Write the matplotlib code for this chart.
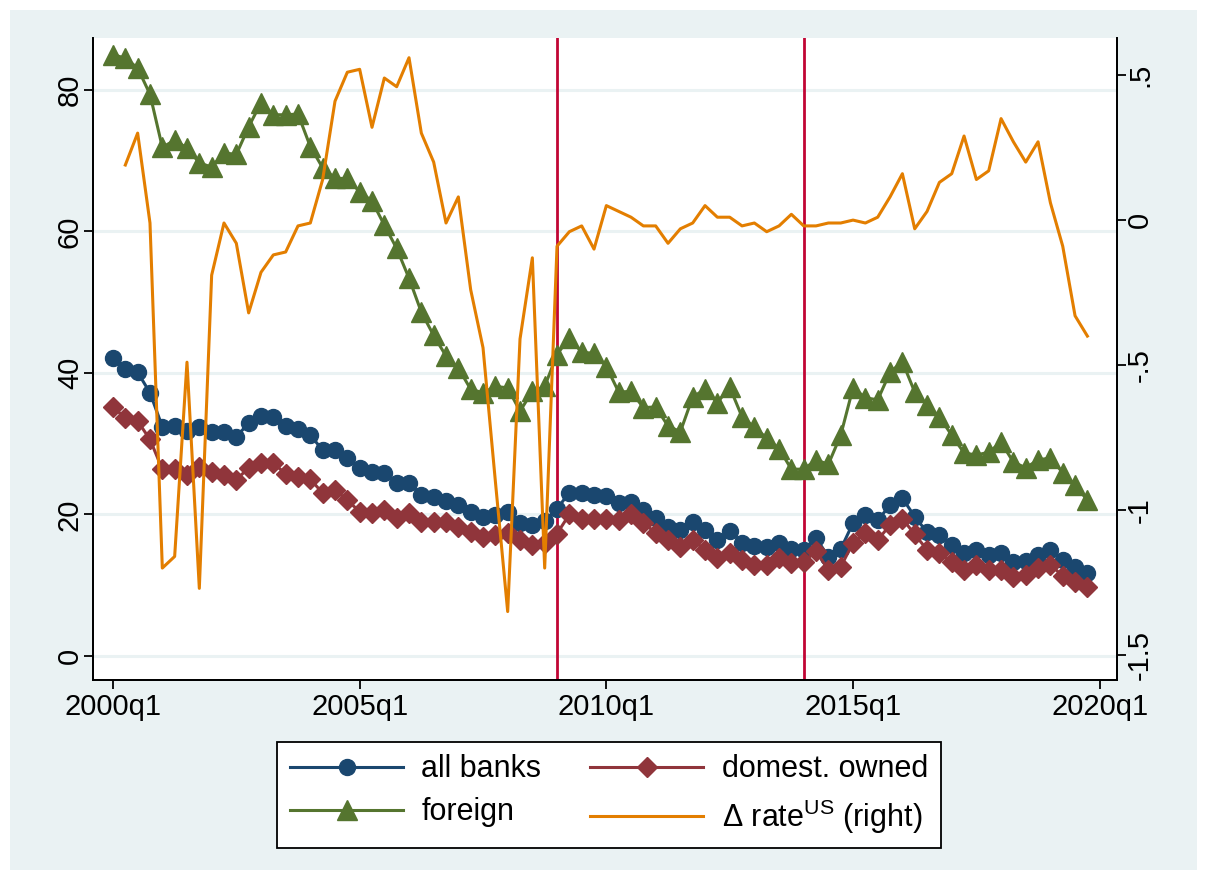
import numpy as np
import matplotlib.pyplot as plt
from matplotlib.patches import Rectangle

plt.rcParams['font.family'] = ['Liberation Sans', 'DejaVu Sans']
plt.rcParams['mathtext.fontset'] = 'custom'
plt.rcParams['mathtext.rm'] = 'Liberation Sans'

# quarterly series, 2000q1 .. 2019q4
all_banks = [42.1, 40.6, 40.1, 37.2, 32.4, 32.5, 31.8, 32.4, 31.7, 31.7,
             31.0, 32.9, 33.9, 33.8, 32.5, 32.1, 31.2, 29.1, 29.1, 28.0,
             26.6, 26.0, 25.8, 24.4, 24.4, 22.8, 22.5, 21.9, 21.3, 20.4,
             19.7, 19.9, 20.4, 18.8, 18.5, 19.1, 20.8, 23.1, 23.0, 22.8,
             22.6, 21.6, 21.8, 20.6, 19.5, 18.2, 17.8, 18.9, 17.8, 16.4,
             17.7, 16.0, 15.5, 15.4, 15.9, 15.1, 15.0, 16.7, 14.0, 15.1,
             18.8, 19.9, 19.2, 21.3, 22.3, 19.7, 17.5, 17.1, 15.7, 14.6,
             15.0, 14.3, 14.6, 13.3, 13.4, 14.3, 15.0, 13.6, 12.6, 11.7]
domestic = [35.2, 33.6, 33.2, 30.6, 26.4, 26.4, 25.6, 26.7, 26.0, 25.6,
            24.9, 26.6, 27.3, 27.3, 25.7, 25.3, 25.0, 23.0, 23.5, 22.0,
            20.4, 20.2, 20.6, 19.5, 20.2, 18.9, 18.9, 18.9, 18.2, 17.5,
            16.8, 17.1, 17.4, 16.4, 15.7, 16.0, 17.3, 20.0, 19.4, 19.4,
            19.4, 19.2, 20.0, 18.8, 17.4, 16.4, 15.4, 16.4, 15.0, 13.9,
            14.6, 13.6, 12.9, 12.9, 13.9, 13.1, 13.3, 14.8, 12.2, 12.6,
            16.0, 17.4, 16.4, 18.5, 19.4, 17.2, 15.0, 14.6, 13.3, 12.2,
            12.9, 12.2, 12.2, 11.2, 11.4, 12.4, 12.9, 11.3, 10.5, 9.8]
foreign = [85.0, 84.5, 83.1, 79.4, 71.9, 72.9, 71.8, 69.7, 69.1, 71.1,
           70.9, 74.8, 78.2, 76.5, 76.5, 76.6, 72.0, 69.0, 67.5, 67.5,
           65.6, 64.3, 60.9, 57.6, 53.4, 48.6, 45.3, 42.4, 40.7, 37.7,
           37.2, 38.1, 37.9, 34.6, 37.4, 38.1, 42.6, 45.0, 42.9, 42.8,
           40.9, 37.3, 37.4, 35.1, 35.2, 32.5, 31.7, 36.6, 37.7, 35.8,
           38.0, 33.8, 32.3, 30.8, 29.3, 26.4, 26.4, 27.7, 27.1, 31.2,
           37.9, 36.5, 36.2, 40.1, 41.6, 37.3, 35.5, 33.8, 31.2, 28.7,
           28.4, 28.8, 30.2, 27.4, 26.6, 27.7, 28.0, 25.9, 24.2, 22.0]
d_rate_us = [np.nan, 0.19, 0.30, -0.01, -1.20, -1.16, -0.49, -1.27, -0.19, -0.01,
             -0.08, -0.32, -0.18, -0.12, -0.11, -0.02, -0.01, 0.14, 0.41, 0.51,
             0.52, 0.32, 0.49, 0.46, 0.56, 0.30, 0.20, -0.01, 0.08, -0.24,
             -0.44, -0.90, -1.35, -0.41, -0.13, -1.20, -0.09, -0.04, -0.02, -0.10,
             0.05, 0.03, 0.01, -0.02, -0.02, -0.08, -0.03, -0.01, 0.05, 0.01,
             0.01, -0.02, -0.01, -0.04, -0.02, 0.02, -0.02, -0.02, -0.01, -0.01,
             0.00, -0.01, 0.01, 0.08, 0.16, -0.03, 0.03, 0.13, 0.16, 0.29,
             0.14, 0.17, 0.35, 0.27, 0.20, 0.27, 0.06, -0.09, -0.33, -0.40]

quarter = np.arange(len(all_banks))
xtick_pos = [0, 20, 40, 60, 80]
xtick_labels = ['2000q1', '2005q1', '2010q1', '2015q1', '2020q1']
event_quarters = [36, 56]   # 2009q1, 2014q1

bg = '#EAF2F3'
navy = '#1A476F'
maroon = '#90353B'
green = '#55752F'
orange = '#E37E00'
cranberry = '#C10534'

fig = plt.figure(figsize=(12.07, 8.80), dpi=100, facecolor='white')
fig.patches.append(Rectangle((10 / 1207, 10 / 880), 1187 / 1207, 860 / 880,
                             transform=fig.transFigure, facecolor=bg,
                             edgecolor='none', zorder=-10))

ax = fig.add_axes([93 / 1207, 1 - 680 / 880, 1024 / 1207, 642 / 880])
ax.set_facecolor('white')
ax2 = ax.twinx()

ax.set_xlim(-1.62, 81.4)
ax.set_ylim(-3.4, 87.35)
ax2.set_ylim(-1.586, 0.628)

for y in [0, 20, 40, 60, 80]:
    ax.axhline(y, color=bg, lw=2.2, zorder=0)

for q in event_quarters:
    ax.axvline(q, color=cranberry, lw=2.0, zorder=1)

ax.plot(quarter, all_banks, color=navy, lw=2.2, marker='o', ms=11.5, zorder=3)
ax.plot(quarter, domestic, color=maroon, lw=2.2, marker='D', ms=9.8, zorder=3)
ax.plot(quarter, foreign, color=green, lw=2.2, marker='^', ms=14.5, zorder=3)
ax2.plot(quarter, d_rate_us, color=orange, lw=2.2, zorder=4)

for a in (ax, ax2):
    a.spines['top'].set_visible(False)
    for s in ('left', 'right', 'bottom'):
        a.spines[s].set_linewidth(1.3)
        a.spines[s].set_color('black')

ax.set_xticks(xtick_pos)
ax.set_xticklabels(xtick_labels)
ax.set_yticks([0, 20, 40, 60, 80])
ax.set_yticklabels(['0', '20', '40', '60', '80'], rotation=90, va='center')
ax2.set_yticks([-1.5, -1, -0.5, 0, 0.5])
ax2.set_yticklabels(['-1.5', '-1', '-.5', '0', '.5'], rotation=90, va='center')

ax.tick_params(axis='y', direction='out', length=6.5, width=1.3, labelsize=21, pad=0)
ax.tick_params(axis='x', direction='out', length=6.5, width=1.3, labelsize=21, pad=3)
ax2.tick_params(axis='y', direction='out', length=6.5, width=1.3, labelsize=21, pad=0)

# legend handles
h1, = ax.plot([], [], color=navy, lw=2.2, marker='o', ms=11.5)
h2, = ax.plot([], [], color=maroon, lw=2.2, marker='D', ms=9.8)
h3, = ax.plot([], [], color=green, lw=2.2, marker='^', ms=14.5)
h4, = ax.plot([], [], color=orange, lw=2.2)
leg = fig.legend([h1, h3, h2, h4],
                 ['all banks', 'foreign', 'domest. owned',
                  r'Δ rate$^{\mathrm{US}}$ (right)'],
                 ncol=2, loc='center', bbox_to_anchor=(609 / 1207, 1 - 795 / 880),
                 fontsize=22, frameon=True, fancybox=False, edgecolor='black',
                 framealpha=1, handlelength=3.7, handletextpad=0.6,
                 columnspacing=1.6, labelspacing=0.42, borderpad=0.42,
                 borderaxespad=0, numpoints=1)
leg.get_frame().set_linewidth(1.3)
leg.get_frame().set_facecolor('white')

fig.savefig('out.png', dpi=100, facecolor=fig.get_facecolor())
